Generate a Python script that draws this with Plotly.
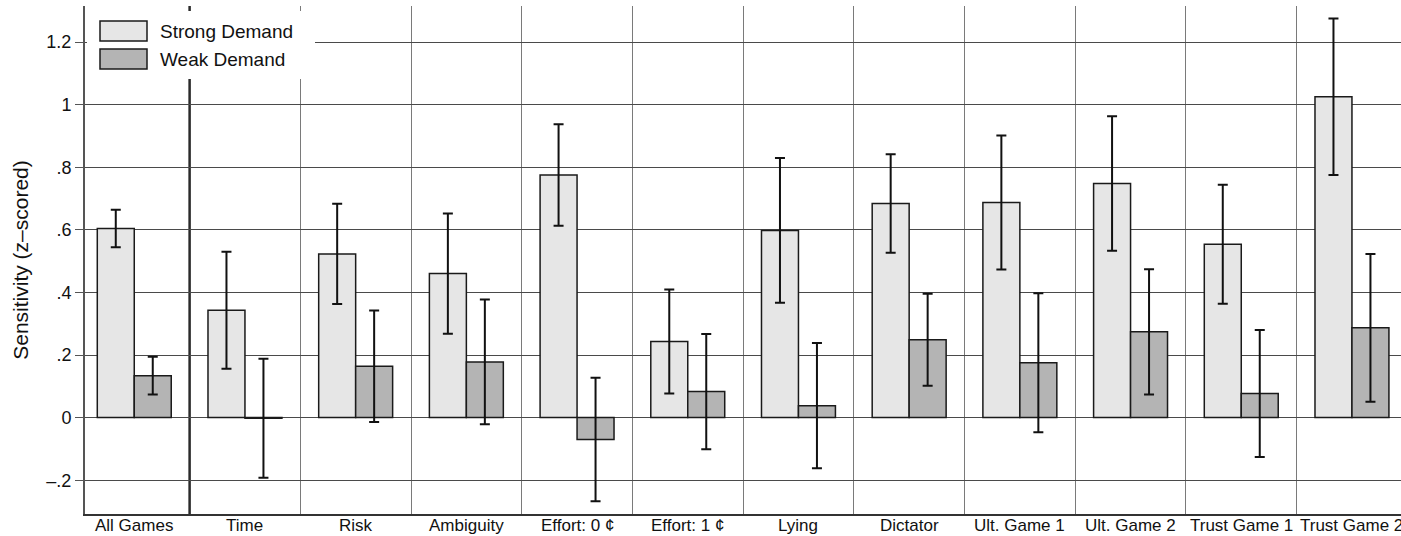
import plotly.graph_objects as go

# Sensitivity by game and demand condition (means with 95% CI half-widths)
categories = ["All Games", "Time", "Risk", "Ambiguity", "Effort: 0 ¢", "Effort: 1 ¢",
              "Lying", "Dictator", "Ult. Game 1", "Ult. Game 2", "Trust Game 1", "Trust Game 2"]
strong = [0.604, 0.343, 0.523, 0.460, 0.775, 0.243, 0.598, 0.684, 0.687, 0.748, 0.554, 1.025]
strong_ci = [0.060, 0.187, 0.160, 0.192, 0.162, 0.166, 0.231, 0.157, 0.214, 0.215, 0.190, 0.250]
weak = [0.134, -0.002, 0.164, 0.178, -0.070, 0.083, 0.038, 0.249, 0.175, 0.274, 0.077, 0.287]
weak_ci = [0.060, 0.190, 0.178, 0.199, 0.197, 0.184, 0.200, 0.147, 0.222, 0.200, 0.203, 0.236]

ytick_vals = [-0.2, 0, 0.2, 0.4, 0.6, 0.8, 1.0, 1.2]
ytick_text = ["–.2", "0", ".2", ".4", ".6", ".8", "1", "1.2"]

series_names = ["Strong Demand", "Weak Demand"]
fill_strong = "#e6e6e6"
fill_weak = "#b4b4b4"
edge = "#1a1a1a"
font = "Liberation Sans, Arial, Helvetica, sans-serif"

W, H = 1401, 536
ML, MR, MT, MB = 85, 0, 6, 22
PW, PH = W - ML - MR, H - MT - MB

x = list(range(len(categories)))

fig = go.Figure()
for name, vals, ci, fill in [(series_names[0], strong, strong_ci, fill_strong),
                             (series_names[1], weak, weak_ci, fill_weak)]:
    fig.add_trace(go.Bar(
        x=x, y=vals, name=name,
        marker=dict(color=fill, line=dict(color=edge, width=1.5)),
        error_y=dict(type="data", array=ci, visible=True,
                     color="#111111", thickness=2, width=5),
        showlegend=False,
    ))

fig.update_layout(
    width=W, height=H,
    margin=dict(l=ML, r=MR, t=MT, b=MB, autoexpand=False),
    paper_bgcolor="white", plot_bgcolor="white",
    barmode="group", bargap=0.332, bargroupgap=0,
    font=dict(family=font, color="#111111"),
)

fig.update_xaxes(
    range=[-0.445, 11.443],
    tickmode="array", tickvals=x, showticklabels=False,
    ticks="", showgrid=False, zeroline=False,
    showline=True, linecolor="#333333", linewidth=1.5,
    minor=dict(tickvals=[i + 0.5 for i in range(1, len(categories))],
               showgrid=True, gridcolor="#7a7a7a", gridwidth=1, ticks=""),
    automargin=False,
)

fig.update_yaxes(
    range=[-0.308, 1.315],
    tickmode="array", tickvals=ytick_vals, ticktext=ytick_text,
    tickfont=dict(size=18, color="#111111"),
    ticks="outside", ticklen=8, tickcolor="#555555", tickwidth=1,
    showgrid=True, gridcolor="#4a4a4a", gridwidth=1,
    zeroline=False,
    showline=True, linecolor="#555555", linewidth=2,
    title=dict(text="Sensitivity (z–scored)", font=dict(size=21, color="#111111"), standoff=12),
    automargin=False,
)

# Category labels sit tight under the axis; the last one runs off the right edge
for xi, label in zip(x, categories):
    fig.add_annotation(xref="x", yref="paper", x=xi, y=0, yshift=-11,
                       text=label, showarrow=False, xanchor="center", yanchor="middle",
                       font=dict(size=17, color="#111111", family=font))

# Separator between the pooled result and the individual games
fig.add_shape(type="line", xref="x", yref="paper", x0=0.5, x1=0.5, y0=0, y1=1,
              line=dict(color="#2a2a2a", width=2.5), layer="below")


def px_x(p):
    return (p - ML) / PW


def px_y(p):
    return (H - MB - p) / PH


# Legend panel
fig.add_shape(type="rect", xref="paper", yref="paper",
              x0=px_x(87), x1=px_x(315), y0=px_y(79), y1=px_y(11),
              fillcolor="white", line=dict(width=0), layer="above")
for i, (name, fill) in enumerate([(series_names[0], fill_strong), (series_names[1], fill_weak)]):
    top = 21 + 28 * i
    fig.add_shape(type="rect", xref="paper", yref="paper",
                  x0=px_x(100), x1=px_x(147), y0=px_y(top + 20), y1=px_y(top),
                  fillcolor=fill, line=dict(color=edge, width=1.5), layer="above")
    fig.add_annotation(xref="paper", yref="paper", x=px_x(158), y=px_y(top + 10),
                       text=name, showarrow=False, xanchor="left", yanchor="middle",
                       font=dict(size=19, color="#111111", family=font))

fig.write_html("out.html")
